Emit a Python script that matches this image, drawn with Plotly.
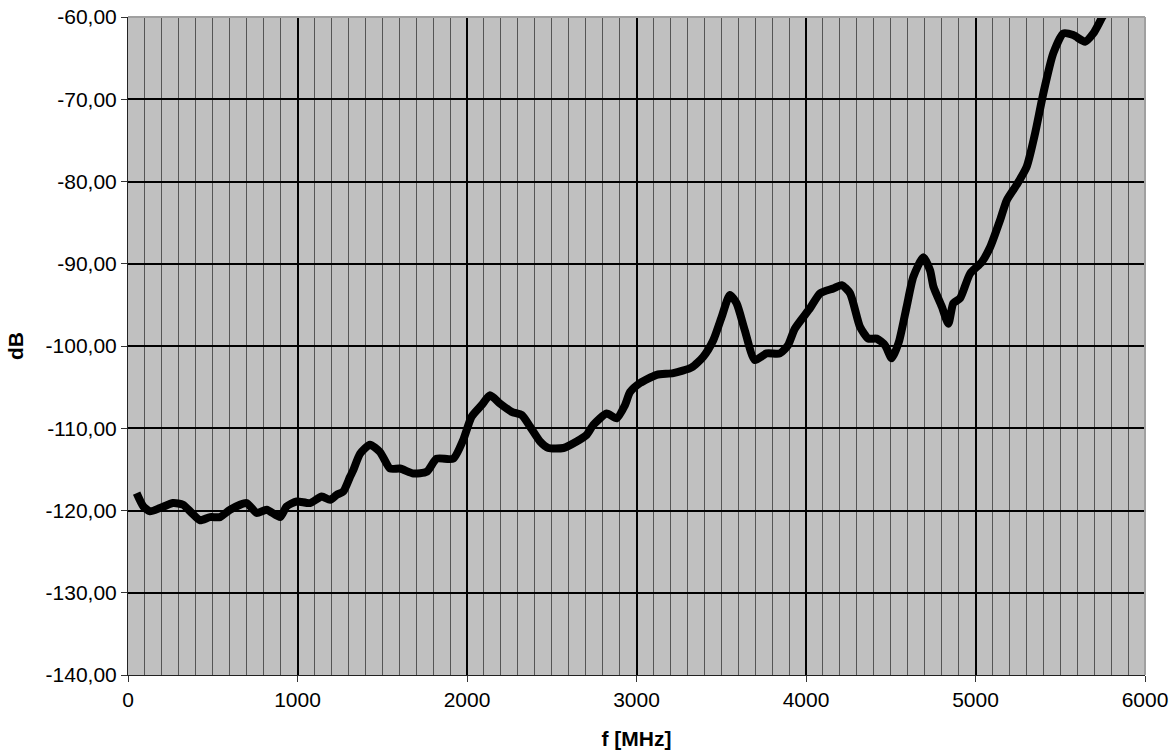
import plotly.graph_objects as go

# Frequency (MHz) and level (dB)
freq_mhz = [51, 90, 130, 189, 266, 325, 376, 425, 484, 543, 602, 700, 759, 818, 897, 936, 995,
            1074, 1143, 1192, 1231, 1270, 1310, 1329, 1369, 1428, 1487, 1546, 1605, 1684, 1762,
            1821, 1919, 1978, 2027, 2086, 2136, 2195, 2264, 2323, 2372, 2431, 2480, 2569, 2647,
            2706, 2745, 2824, 2883, 2932, 2962, 3021, 3119, 3217, 3326, 3394, 3453, 3502, 3551,
            3590, 3639, 3698, 3767, 3846, 3894, 3934, 4024, 4083, 4161, 4210, 4260, 4319, 4368,
            4417, 4466, 4506, 4548, 4594, 4633, 4692, 4732, 4752, 4801, 4840, 4869, 4909, 4968,
            5037, 5086, 5145, 5184, 5243, 5302, 5351, 5400, 5459, 5518, 5577, 5646, 5695, 5754,
            5800]
level_db = [-117.9, -119.5, -120.1, -119.7, -119.1, -119.3, -120.3, -121.2, -120.8, -120.8,
            -119.9, -119.1, -120.3, -119.9, -120.8, -119.5, -118.9,
            -119.1, -118.3, -118.7, -118.1, -117.7, -115.9, -115.1, -113.1, -112.0, -112.9,
            -114.9, -114.9, -115.5, -115.3,
            -113.7, -113.7, -111.4, -108.6, -107.2, -106.0, -107.0, -108.0, -108.4, -109.8,
            -111.6, -112.4, -112.4, -111.6,
            -110.8, -109.6, -108.2, -108.8, -107.2, -105.6, -104.5, -103.5, -103.3, -102.6,
            -101.3, -99.3, -96.5, -93.8,
            -94.8, -98.1, -101.7, -100.9, -100.9, -99.9, -97.9, -95.4, -93.6, -93.0, -92.6,
            -93.6, -97.7, -99.1,
            -99.1, -99.9, -101.5, -99.5, -95.2, -91.6, -89.2, -90.8, -92.8, -95.2, -97.3,
            -94.8, -94.2, -91.2,
            -89.8, -88.0, -84.7, -82.3, -80.4, -78.2, -74.2, -69.3, -64.4, -62.0, -62.2,
            -63.0, -62.0, -59.8,
            -58.5]

y_tick_vals = [-140, -130, -120, -110, -100, -90, -80, -70, -60]
y_tick_text = ["-140,00", "-130,00", "-120,00", "-110,00", "-100,00", "-90,00", "-80,00",
               "-70,00", "-60,00"]
x_tick_vals = [0, 1000, 2000, 3000, 4000, 5000, 6000]
x_title = "f [MHz]"
y_title = "dB"

FONT = "Liberation Sans, Arial, sans-serif"

fig = go.Figure()
fig.add_trace(go.Scatter(
    x=freq_mhz, y=level_db, mode="lines",
    line=dict(color="black", width=8, shape="spline", smoothing=0.6),
    showlegend=False, hoverinfo="skip",
))

fig.update_layout(
    width=1176, height=756,
    margin=dict(l=128, r=31, t=17, b=81, autoexpand=False),
    paper_bgcolor="white",
    plot_bgcolor="#c0c0c0",
    font=dict(family=FONT, size=21, color="black"),
    hovermode=False,
    xaxis=dict(
        range=[0, 6000], tickvals=x_tick_vals, ticks="outside", ticklen=6,
        tickcolor="#333333", showline=True, linecolor="#222222", linewidth=1,
        showgrid=True, gridcolor="black", gridwidth=2, zeroline=False,
        minor=dict(dtick=100, showgrid=True, gridcolor="#555555", gridwidth=1, ticks=""),
        title=dict(text="<b>" + x_title + "</b>", standoff=21,
                   font=dict(family=FONT, size=21)),
        tickfont=dict(family=FONT, size=21),
        ticklabeloverflow="allow",
        automargin=False,
    ),
    yaxis=dict(
        range=[-140, -60], tickvals=y_tick_vals, ticktext=y_tick_text,
        ticks="outside", ticklen=6, tickcolor="#333333",
        showline=True, linecolor="#222222", linewidth=1,
        showgrid=True, gridcolor="black", gridwidth=2, zeroline=False,
        title=dict(text="<b>" + y_title + "</b>", standoff=16,
                   font=dict(family=FONT, size=21)),
        tickfont=dict(family=FONT, size=21),
        ticklabeloverflow="allow",
        automargin=False,
    ),
    shapes=[
        dict(type="line", xref="paper", yref="paper", x0=0, x1=1, y0=1, y1=1,
             line=dict(color="#a0a0a0", width=2)),
        dict(type="line", xref="paper", yref="paper", x0=1, x1=1, y0=0, y1=1,
             line=dict(color="#a0a0a0", width=2)),
    ],
)

# remove the page's default body margin so the figure sits at the window's top-left corner
fig.write_html("out.html", config={"displayModeBar": False},
               post_script="document.body.style.margin='0';")
